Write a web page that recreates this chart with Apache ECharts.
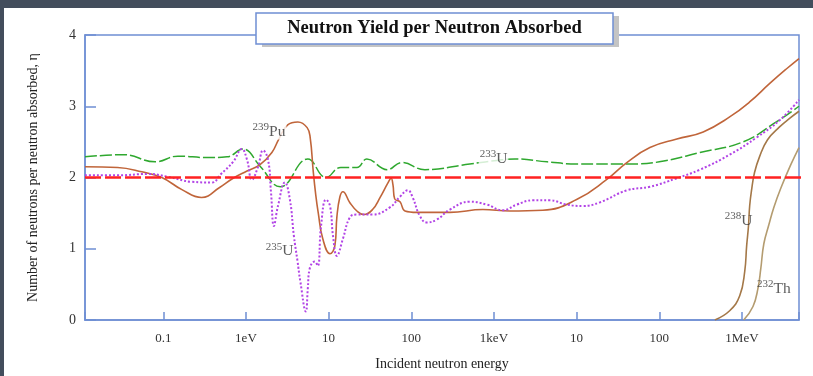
<!DOCTYPE html>
<html><head><meta charset="utf-8">
<script src="https://cdn.jsdelivr.net/npm/echarts@6/dist/echarts.min.js"></script>
<style>html,body{margin:0;padding:0;background:#434d5c}#c{width:813px;height:376px}</style>
</head><body><div id="c"></div>
<script>
// ---- data (energy in eV, eta) ----
const xTickValues = [0.1, 1, 10, 100, 1000, 1e4, 1e5, 1e6];
const xTickLabels = ['0.1', '1eV', '10', '100', '1keV', '10', '100', '1MeV'];
const yTickValues = [0, 1, 2, 3, 4];

const u233 = [[0.0113,2.29],[0.033,2.32],[0.08,2.22],[0.15,2.30],[0.34,2.28],[0.59,2.29],[0.92,2.40],[1.5,2.15],[2.6,1.87],[5.6,2.26],[9.3,2.0],[14,2.14],[22,2.14],[29,2.26],[51,2.11],[77,2.21],[146,2.11],[510,2.19],[1090,2.24],[1800,2.26],[4400,2.22],[1e4,2.19],[4.4e4,2.19],[1e5,2.22],[3.1e5,2.35],[1.03e6,2.50],[2.6e6,2.78],[4.9e6,3.0]];

const pu239 = [[0.0113,2.15],[0.028,2.14],[0.055,2.08],[0.096,2.0],[0.168,1.83],[0.29,1.72],[0.48,1.86],[0.70,1.99],[1.03,2.09],[1.48,2.18],[2.06,2.35],[2.5,2.54],[3.2,2.74],[4.25,2.78],[5.5,2.70],[6.0,2.55],[6.5,2.1],[7.0,1.75],[7.5,1.5],[8.5,1.14],[10.4,0.93],[11.9,1.04],[12.6,1.45],[13.7,1.73],[14.9,1.80],[18,1.65],[22,1.53],[26.7,1.48],[34,1.55],[42,1.72],[52,1.92],[57,1.99],[60,1.9],[63,1.7],[73,1.66],[84,1.53],[117,1.51],[293,1.51],[735,1.55],[1556,1.53],[3900,1.54],[1e4,1.69],[2.3e4,1.97],[4.05e4,2.21],[7.7e4,2.42],[1.63e5,2.54],[3.4e5,2.64],[7.1e5,2.85],[1.24e6,3.06],[2.17e6,3.32],[3.5e6,3.53],[4.9e6,3.67]];

const u235 = [[0.0113,2.03],[0.028,2.03],[0.065,2.05],[0.114,2.01],[0.22,1.94],[0.39,1.93],[0.49,2.04],[0.70,2.22],[0.89,2.40],[1.03,2.25],[1.18,1.97],[1.40,2.15],[1.61,2.38],[1.85,2.25],[2.01,1.79],[2.18,1.32],[2.44,1.60],[2.96,1.93],[3.4,1.69],[3.8,1.18],[4.2,0.83],[4.55,0.54],[5.3,0.12],[5.6,0.44],[5.9,0.72],[6.8,0.82],[7.4,0.76],[8.1,1.32],[9.3,1.69],[10.4,1.60],[11.3,1.18],[12.6,0.90],[14.9,1.14],[18.1,1.44],[22,1.48],[34,1.48],[55,1.58],[73,1.73],[91,1.82],[104,1.72],[127,1.46],[154,1.37],[204,1.41],[293,1.55],[511,1.66],[820,1.62],[1280,1.54],[1890,1.62],[2950,1.68],[4730,1.68],[7600,1.62],[1.19e4,1.60],[1.9e4,1.65],[4.05e4,1.82],[7.7e4,1.87],[1.63e5,1.99],[3.1e5,2.11],[7.1e5,2.32],[1.5e6,2.56],[2.9e6,2.81],[4.9e6,3.09]];

const u238 = [[4.7e5,0],[7.1e5,0.13],[9.4e5,0.34],[1.08e6,0.68],[1.14e6,1.04],[1.2e6,1.32],[1.24e6,1.6],[1.31e6,1.83],[1.42e6,2.07],[1.63e6,2.29],[2.04e6,2.53],[2.85e6,2.71],[3.77e6,2.83],[4.9e6,2.93]];

const th232 = [[1.05e6,0],[1.36e6,0.19],[1.56e6,0.44],[1.69e6,0.72],[1.84e6,1.07],[2.12e6,1.34],[2.43e6,1.58],[2.95e6,1.85],[3.9e6,2.18],[4.9e6,2.42]];

const etaTwo = [[0.0113,2],[7.3e6,2]];

const curveLabels = [
  {name:'239|Pu', value:[1.9, 2.66], bg:true},
  {name:'235|U', value:[2.55, 0.98], bg:false},
  {name:'233|U', value:[988, 2.28], bg:true},
  {name:'238|U', value:[9.1e5, 1.41], bg:false},
  {name:'232|Th', value:[2.43e6, 0.45], bg:false}
];

const SERIF = '"Liberation Serif", "DejaVu Serif", serif';
const AX = '#6f8fd4';
const chart = echarts.init(document.getElementById('c'), null, {renderer:'canvas'});

function xLabel(v){
  for (let i = 0; i < xTickValues.length; i++) {
    if (Math.abs(Math.log10(v) - Math.log10(xTickValues[i])) < 1e-6) return xTickLabels[i];
  }
  return '';
}

const curve = (name, data, color, width, type) => ({
  name, type:'line', data, smooth:0.45, showSymbol:false, symbol:'none',
  lineStyle:{color, width, type}
});

chart.setOption({
  backgroundColor: '#434d5c',
  animation: false,
  graphic: [
    {type:'rect', z:-100, shape:{x:4, y:8, width:809, height:368}, style:{fill:'#ffffff'}},
    {type:'rect', z:100, shape:{x:262, y:16, width:357, height:31}, style:{fill:'#c4c4c4'}},
    {type:'rect', z:101, shape:{x:256, y:13, width:357, height:31}, style:{fill:'#ffffff', stroke:AX, lineWidth:1.5}},
    {type:'text', z:102, x:434.5, y:28.5, style:{text:'Neutron Yield per Neutron Absorbed', fontFamily:SERIF, fontWeight:'bold', fontSize:18.5, fill:'#111', align:'center', verticalAlign:'middle'}}
  ],
  grid: {left:85, top:35, right:14, bottom:55, show:true, borderColor:AX, borderWidth:1.5, backgroundColor:'transparent'},
  xAxis: {
    type:'log', logBase:10, min:0.0113, max:4.9e6,
    name:'Incident neutron energy', nameLocation:'middle', nameGap:37,
    nameTextStyle:{fontFamily:SERIF, fontSize:14, color:'#222'},
    axisLine:{show:true, lineStyle:{color:AX, width:1.5}},
    axisTick:{show:true, inside:true, length:8, lineStyle:{color:AX, width:1.5}},
    axisLabel:{formatter:xLabel, fontFamily:SERIF, fontSize:13, color:'#333', margin:12},
    splitLine:{show:false}, minorTick:{show:false}
  },
  yAxis: {
    type:'value', min:0, max:4, interval:1,
    name:'Number of neutrons per neutron absorbed, η', nameLocation:'middle', nameGap:45,
    nameTextStyle:{fontFamily:SERIF, fontSize:14, color:'#222'},
    axisLine:{show:true, lineStyle:{color:AX, width:1.5}},
    axisTick:{show:true, inside:true, length:11, lineStyle:{color:AX, width:1.5}},
    axisLabel:{fontFamily:SERIF, fontSize:14, color:'#333', margin:9,
      formatter: v => yTickValues.indexOf(v) >= 0 ? String(v) : ''},
    splitLine:{show:false}
  },
  series: [
    curve('233U', u233, '#2fa82f', 1.5, [12,3]),
    curve('239Pu', pu239, '#c0653a', 1.6, 'solid'),
    curve('235U', u235, '#b244e6', 2, [2,2]),
    curve('238U', u238, '#a47848', 1.6, 'solid'),
    curve('232Th', th232, '#b49c70', 1.6, 'solid'),
    {name:'eta2', type:'line', data:etaTwo, clip:false, showSymbol:false, symbol:'none', z:5,
      lineStyle:{color:'#ff2222', width:2.5, type:[16,4]}},
    {name:'labels', type:'scatter', symbolSize:1, itemStyle:{color:'rgba(0,0,0,0)'}, z:10,
      data: curveLabels.map(d => ({name:d.name, value:d.value,
        label:{backgroundColor: d.bg ? '#fff' : 'transparent'}})),
      label:{show:true, position:'inside', padding:[0,1],
        formatter: p => { const s = p.name.split('|'); return '{s|' + s[0] + '}{m|' + s[1] + '}'; },
        rich:{
          s:{fontFamily:SERIF, fontSize:11, color:'#333', verticalAlign:'top', lineHeight:18},
          m:{fontFamily:SERIF, fontSize:15.5, color:'#333', verticalAlign:'bottom', lineHeight:18}
        }}}
  ]
});
</script></body></html>
